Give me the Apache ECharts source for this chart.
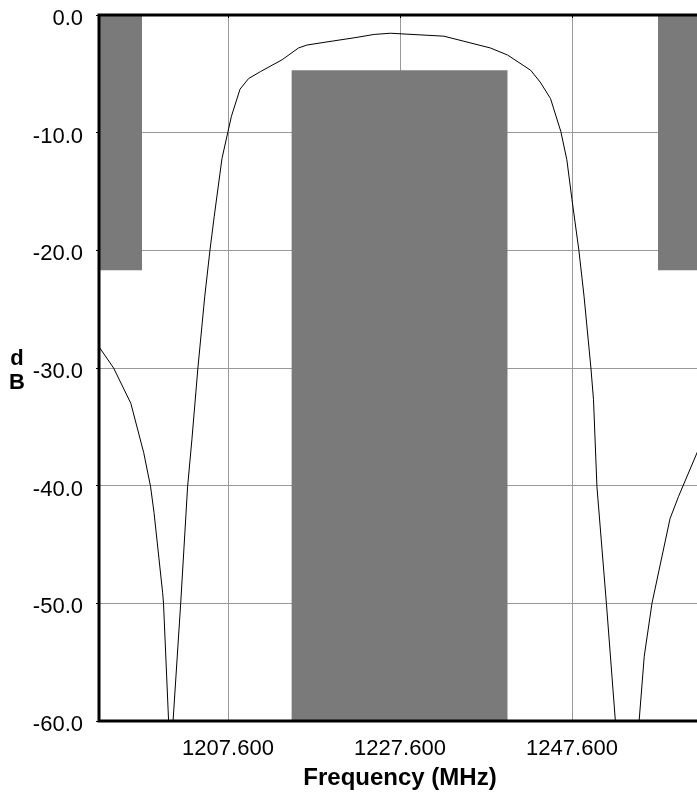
<!DOCTYPE html>
<html>
<head>
<meta charset="utf-8">
<script src="https://cdn.jsdelivr.net/npm/echarts@6/dist/echarts.min.js"></script>
<style>
html,body{margin:0;padding:0;background:#fff;}
#chart{width:697px;height:794px;}
</style>
</head>
<body>
<div id="chart"></div>
<script>
// Frequency response curve (MHz, dB)
const freq = [1192.6, 1194.3, 1196.3, 1197.8, 1198.6, 1199.0, 1200.0, 1200.1, 1200.9,
  1202.1, 1202.9, 1203.4, 1204.1, 1204.9, 1205.5, 1206.0, 1206.9, 1207.6, 1208.0, 1209.0,
  1210.0, 1211.4, 1213.9, 1215.8, 1216.8, 1219.9, 1222.6, 1224.6, 1226.5, 1232.7, 1238.1,
  1240.1, 1242.8, 1243.9, 1245.1, 1246.3, 1247.0, 1247.6, 1248.4, 1249.0, 1249.8, 1250.1,
  1250.5, 1251.6, 1254.0, 1256.0, 1256.9, 1259.0, 1260.0, 1262.2, 1262.6];
const dB = [-28.2, -30.0, -33.0, -37.2, -40.1, -42.3, -49.1, -50.0, -63.5,
  -50.0, -40.1, -36.1, -30.0, -23.9, -20.0, -17.1, -12.2, -9.9, -8.6, -6.3,
  -5.4, -4.8, -3.8, -2.8, -2.55, -2.2, -1.9, -1.65, -1.55, -1.8, -2.8,
  -3.4, -4.7, -5.7, -7.1, -9.9, -12.3, -15.7, -20.0, -23.9, -30.0, -32.7,
  -40.1, -50.0, -73.0, -54.5, -50.0, -42.8, -40.9, -37.1, -36.3];

// Mask rectangles
const bandStart = [1192.6, 1215.0, 1257.6];
const bandEnd = [1197.6, 1240.1, 1262.6];
const bandTop = [0, -4.7, 0];
const bandBottom = [-21.7, -60, -21.7];

// Axis ticks
const xTicks = [1207.6, 1227.6, 1247.6];
const xMin = 1192.6, xMax = 1262.6;
const yMin = -60, yMax = 0, yStep = 10;

const chart = echarts.init(document.getElementById('chart'), null, {renderer: 'canvas'});
const font = '"Liberation Sans", Arial, sans-serif';

const curveData = freq.map((f, i) => [f, dB[i]]);
const bandData = bandStart.map((s, i) => [s, bandEnd[i], bandTop[i], bandBottom[i]]);

chart.setOption({
  animation: false,
  backgroundColor: '#fff',
  grid: {
    left: 99, top: 15, right: -4, bottom: 73, z: 10,
    outerBoundsMode: 'none', containLabel: false,
    show: true, borderColor: '#000', borderWidth: 3, backgroundColor: 'transparent'
  },
  xAxis: {
    type: 'value', min: xMin, max: xMax,
    name: 'Frequency (MHz)', nameLocation: 'middle', nameGap: 45,
    nameTextStyle: {fontFamily: font, fontSize: 24, fontWeight: 'bold', color: '#000'},
    axisLine: {show: false},
    axisTick: {show: true, length: 3, inside: false, customValues: xTicks, lineStyle: {color: '#000'}},
    axisLabel: {customValues: xTicks, margin: 17, fontFamily: font, fontSize: 22, color: '#000',
      formatter: v => v.toFixed(3)},
    splitLine: {show: true, lineStyle: {color: '#999', width: 1}}
  },
  yAxis: {
    type: 'value', min: yMin, max: yMax, interval: yStep,
    name: '{s| }\n{a|d}\n{a|B}', nameLocation: 'middle', nameGap: 82, nameRotate: 0,
    nameTextStyle: {
      align: 'center', verticalAlign: 'middle',
      rich: {
        s: {fontSize: 4, lineHeight: 6},
        a: {fontFamily: font, fontSize: 22, fontWeight: 'bold', color: '#000', lineHeight: 24, align: 'center'}
      }
    },
    axisLine: {show: false},
    axisTick: {show: true, length: 3, lineStyle: {color: '#000'}},
    axisLabel: {margin: 16, fontFamily: font, fontSize: 22, color: '#000',
      verticalAlign: 'top', lineHeight: 8, formatter: v => v.toFixed(1)},
    splitLine: {show: true, lineStyle: {color: '#999', width: 1}}
  },
  series: [
    {
      type: 'custom',
      data: bandData,
      z: 2,
      clip: true,
      renderItem: function (params, api) {
        const p0 = api.coord([api.value(0), api.value(2)]);
        const p1 = api.coord([api.value(1), api.value(3)]);
        return {
          type: 'rect',
          shape: {x: p0[0], y: p0[1], width: p1[0] - p0[0], height: p1[1] - p0[1]},
          style: {fill: '#7a7a7a'}
        };
      },
      encode: {x: [0, 1], y: [2, 3]}
    },
    {
      type: 'line',
      data: curveData,
      z: 3,
      clip: true,
      showSymbol: false,
      symbol: 'none',
      smooth: false,
      lineStyle: {color: '#000', width: 1}
    }
  ]
});
</script>
</body>
</html>
